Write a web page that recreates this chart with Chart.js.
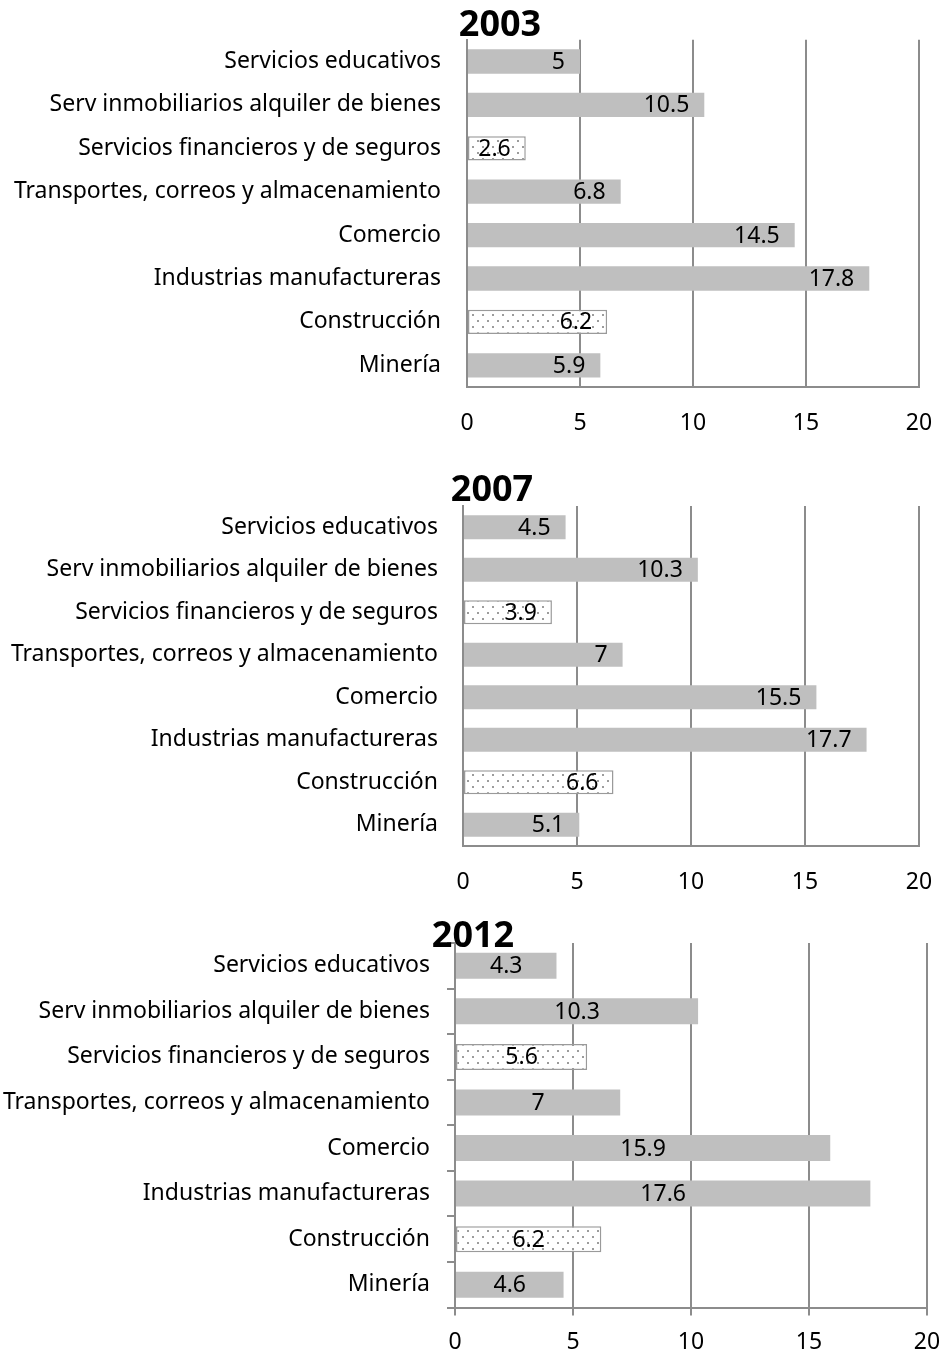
<!DOCTYPE html>
<html>
<head>
<meta charset="utf-8">
<script src="https://cdn.jsdelivr.net/npm/chart.js@4.4.1/dist/chart.umd.min.js"></script>
<style>
  body { margin: 0; background: #fff; }
  #wrap { position: relative; width: 943px; height: 1353px; overflow: hidden; }
  canvas { position: absolute; left: 0; }
  .title { position: absolute; width: 200px; text-align: center; font: bold 36px "Noto Sans"; line-height: 36px; color: #000; }
</style>
</head>
<body>
<div id="wrap">
  <canvas id="c2003"></canvas>
  <canvas id="c2007"></canvas>
  <canvas id="c2012"></canvas>
  <div class="title" style="left:400px; top:5px;">2003</div>
  <div class="title" style="left:392px; top:470px;">2007</div>
  <div class="title" style="left:373px; top:916px;">2012</div>
</div>
<script>
const sectors = [
  'Servicios educativos',
  'Serv inmobiliarios alquiler de bienes',
  'Servicios financieros y de seguros',
  'Transportes, correos y almacenamiento',
  'Comercio',
  'Industrias manufactureras',
  'Construcción',
  'Minería'
];
const values2003 = [5, 10.5, 2.6, 6.8, 14.5, 17.8, 6.2, 5.9];
const values2007 = [4.5, 10.3, 3.9, 7, 15.5, 17.7, 6.6, 5.1];
const values2012 = [4.3, 10.3, 5.6, 7, 15.9, 17.6, 6.2, 4.6];
// which bars get the dotted fill
const dotted = [false, false, true, false, false, false, true, false];

Chart.defaults.font.family = 'Noto Sans';
Chart.defaults.font.size = 23;
Chart.defaults.color = '#000';

function dotPattern() {
  const p = document.createElement('canvas');
  p.width = 10; p.height = 12;
  const g = p.getContext('2d');
  g.fillStyle = '#fff';
  g.fillRect(0, 0, 10, 12);
  g.fillStyle = '#9c9c9c';
  g.fillRect(2, 2, 2, 2);
  g.fillRect(7, 8, 2, 2);
  return g.createPattern(p, 'repeat');
}

const valueLabels = {
  id: 'valueLabels',
  afterDatasetsDraw(chart, args, opts) {
    const ctx = chart.ctx;
    const meta = chart.getDatasetMeta(0);
    const data = chart.data.datasets[0].data;
    ctx.save();
    ctx.font = '23px "Noto Sans"';
    ctx.fillStyle = '#000';
    ctx.textBaseline = 'middle';
    meta.data.forEach((bar, i) => {
      if (opts.mode === 'center') {
        ctx.textAlign = 'center';
        ctx.fillText(data[i], (bar.x + bar.base) / 2, bar.y + 1);
      } else {
        ctx.textAlign = 'right';
        ctx.fillText(data[i], bar.x - 15, bar.y + 1);
      }
    });
    ctx.restore();
  }
};

function makeChart(id, values, cfg) {
  const canvas = document.getElementById(id);
  canvas.width = 943;
  canvas.height = cfg.height;
  canvas.style.top = cfg.top + 'px';
  const pattern = dotPattern();
  return new Chart(canvas, {
    type: 'bar',
    data: {
      labels: sectors,
      datasets: [{
        data: values,
        backgroundColor: dotted.map(d => d ? pattern : '#bfbfbf'),
        borderColor: '#9a9a9a',
        borderWidth: dotted.map(d => d ? 1.5 : 0),
        borderSkipped: false,
        categoryPercentage: 1,
        barPercentage: cfg.barPct
      }]
    },
    options: {
      indexAxis: 'y',
      responsive: false,
      animation: false,
      layout: { padding: { top: cfg.padTop, right: cfg.padRight, left: 0, bottom: 0 } },
      plugins: {
        legend: { display: false },
        tooltip: { enabled: false },
        valueLabels: { mode: cfg.labelMode }
      },
      scales: {
        x: {
          min: 0, max: 20,
          ticks: { stepSize: 5, padding: cfg.xPad },
          grid: {
            color: '#8c8c8c', lineWidth: 2,
            drawTicks: cfg.ticks, tickLength: 8
          },
          border: { color: '#8c8c8c', width: 2 },
          afterFit(s) {
            s.height = cfg.xHeight;
            s.paddingLeft = 0;
            s.paddingRight = 0;
          }
        },
        y: {
          ticks: { padding: cfg.yPad },
          grid: {
            display: cfg.ticks, drawOnChartArea: false,
            drawTicks: cfg.ticks, tickLength: 8,
            color: '#8c8c8c', lineWidth: 2
          },
          border: { display: true, color: '#8c8c8c', width: 2 },
          afterFit(s) { s.width = cfg.left; }
        }
      }
    },
    plugins: [valueLabels]
  });
}

makeChart('c2003', values2003, {
  top: 0, height: 450, padTop: 31, padRight: 24, left: 467,
  xHeight: 63, xPad: 23, yPad: 26, ticks: false, barPct: 0.56, labelMode: 'end'
});
makeChart('c2007', values2007, {
  top: 460, height: 450, padTop: 46, padRight: 24, left: 463,
  xHeight: 64, xPad: 23, yPad: 25, ticks: false, barPct: 0.56, labelMode: 'end'
});
makeChart('c2012', values2012, {
  top: 910, height: 443, padTop: 33, padRight: 16, left: 455,
  xHeight: 45.5, xPad: 13, yPad: 17, ticks: true, barPct: 0.57, labelMode: 'center'
});
</script>
</body>
</html>
